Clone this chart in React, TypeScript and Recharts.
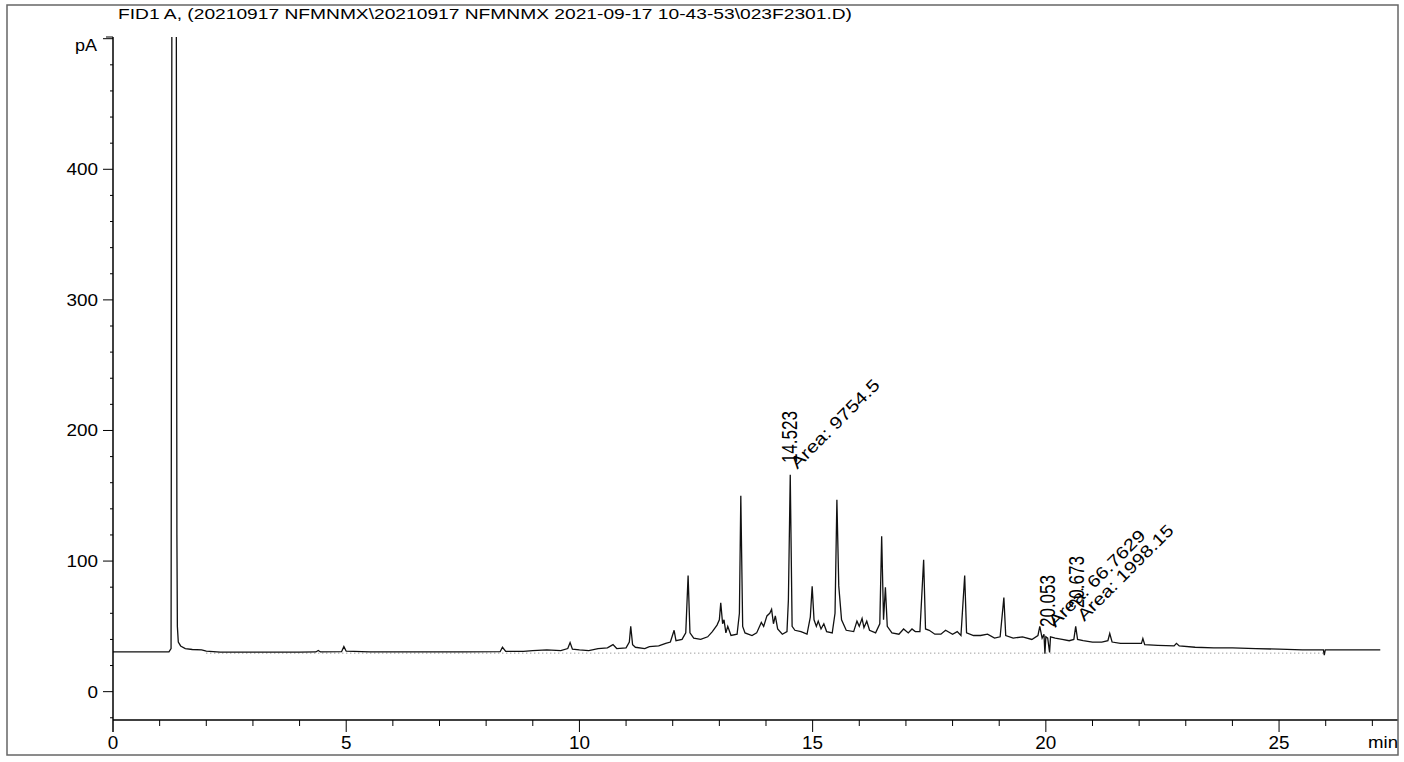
import React from "react";
import { LineChart, Line, XAxis, YAxis, ReferenceDot } from "recharts";

// FID1 A signal, time in min, response in pA
const times = [
  0, 1.2, 1.245, 1.265, 1.355, 1.37, 1.38, 1.4, 1.45, 1.55, 1.7, 1.9, 2.0, 2.3, 3.0, 3.5, 4.0, 4.35, 4.4, 4.45,
  4.9, 4.95, 5.0, 5.5, 6.5, 7.5, 8.3, 8.35, 8.42, 8.8, 9.0, 9.3, 9.6, 9.75, 9.8, 9.85, 10.0, 10.2, 10.4, 10.6,
  10.72, 10.8, 11.0, 11.07, 11.1, 11.14, 11.2, 11.4, 11.5, 11.7, 11.85, 11.95, 12.03, 12.07, 12.2, 12.28, 12.33, 12.37, 12.45, 12.6,
  12.75, 12.85, 12.95, 13.0, 13.03, 13.07, 13.1, 13.14, 13.18, 13.25, 13.38, 13.43, 13.46, 13.5, 13.55, 13.7, 13.8, 13.9, 13.95, 14.02,
  14.08, 14.12, 14.16, 14.2, 14.25, 14.35, 14.45, 14.48, 14.52, 14.56, 14.62, 14.75, 14.88, 14.95, 14.99, 15.03, 15.08, 15.12, 15.18, 15.24,
  15.3, 15.42, 15.48, 15.52, 15.56, 15.62, 15.72, 15.88, 15.95, 16.0, 16.06, 16.1, 16.16, 16.22, 16.35, 16.44, 16.48, 16.52, 16.56, 16.6,
  16.7, 16.85, 16.95, 17.05, 17.13, 17.2, 17.3, 17.38, 17.42, 17.5, 17.62, 17.75, 17.85, 18.0, 18.1, 18.18, 18.26, 18.3, 18.45, 18.6,
  18.75, 18.9, 19.02, 19.1, 19.14, 19.3, 19.5, 19.7, 19.83, 19.87, 19.92, 19.96, 19.98, 20.0, 20.04, 20.08, 20.1, 20.2, 20.35, 20.5,
  20.6, 20.64, 20.68, 20.8, 21.0, 21.2, 21.33, 21.37, 21.42, 21.6, 21.9, 22.05, 22.08, 22.12, 22.4, 22.75, 22.8, 22.86, 23.2, 23.6,
  24.0, 24.5, 25.0, 25.5, 25.95, 25.97, 25.99, 26.5, 27.17,
];
const signal = [
  30.5, 30.5, 33, 600, 600, 120, 50, 38, 35, 33, 32.3, 32, 31, 30.2, 30.3, 30.2, 30.3, 30.4, 31.5, 30.4,
  30.6, 34.5, 31, 30.5, 30.4, 30.5, 30.6, 34, 30.8, 30.8, 31.5, 32, 31.5, 33, 37.6, 32.5, 32, 31.5, 33, 33.5,
  36, 33, 33.5, 38, 50, 36, 34, 33, 34.5, 35, 37, 38, 47, 39, 40, 45, 89, 45, 41, 40,
  42, 46, 51, 55, 68, 52, 55, 45, 50, 43, 44, 60, 150, 50, 45, 43, 45, 53, 50, 58,
  60, 63, 52, 58, 48, 44, 46, 70, 166, 50, 47, 46, 44, 57, 80.6, 55, 50, 54, 48, 52,
  46, 45, 60, 147, 81, 55, 47, 46, 54, 50, 56, 49, 54, 47, 45, 52, 119, 55, 80, 50,
  45, 44, 48, 45, 48, 46, 46, 101, 48, 47, 44, 44, 47, 44, 46, 43, 89, 45, 43, 43,
  44, 41, 42, 72, 43, 41, 42, 40, 43, 50, 41, 44, 29, 42, 41, 30, 42, 41, 40, 39,
  40, 50, 40, 39, 38, 38, 39, 44.5, 38, 37, 37, 37, 40.7, 36, 35.5, 35, 37, 35, 34, 33.5,
  33.5, 33, 32.5, 32, 32, 28, 32, 32, 32,
];

// integration baseline
const baselineTimes = [2.0, 25.97];
const baselineLevel = 29.5;

// peak annotations
const labelTimes = [14.523, 20.053, 20.673];
const rtLabels = ["14.523", "20.053", "20.673"];
const rtLabelLevels = [175, 49.5, 64];
const areaLabels = ["Area: 9754.5", "Area: 66.7629", "Area: 1998.15"];
const areaLabelLevels = [170, 48.8, 53.4];
const areaLabelLengths = [118, 129, 128];

const xMajor = [0, 5, 10, 15, 20, 25];
const xTicks = Array.from({ length: 28 }, (_, i) => i);
const yMajor = [0, 100, 200, 300, 400];
const yTicks = Array.from({ length: 27 }, (_, i) => -20 + i * 20);

const title = "FID1 A,  (20210917 NFMNMX\\20210917 NFMNMX 2021-09-17 10-43-53\\023F2301.D)";

const chromData = times.map((t, i) => ({ t, pA: signal[i] }));
const baselineData = baselineTimes.map((t) => ({ t, base: baselineLevel }));

const FONT = "'Liberation Sans', Arial, sans-serif";

const YTick = (props: any) => {
  const { x, y, payload } = props;
  const v = payload.value;
  const major = v % 100 === 0;
  const label = yMajor.includes(v);
  const s = String(v);
  return (
    <g>
      <line x1={x - (major ? 10 : 3)} x2={x} y1={y} y2={y} stroke="#000" strokeWidth={1} />
      {label && (
        <text x={x - 15} y={y + 6} textAnchor="end" fontSize={17} fontFamily={FONT} fill="#000"
          textLength={s.length * 10.5} lengthAdjust="spacingAndGlyphs">
          {s}
        </text>
      )}
    </g>
  );
};

const XTick = (props: any) => {
  const { x, y, payload } = props;
  const v = payload.value;
  const major = xMajor.includes(v);
  const s = String(v);
  return (
    <g>
      <line x1={x} x2={x} y1={y} y2={y + (major ? 12 : 6)} stroke="#000" strokeWidth={1} />
      {major && (
        <text x={x} y={y + 29} textAnchor="middle" fontSize={18} fontFamily={FONT} fill="#000"
          textLength={s.length * 10.5} lengthAdjust="spacingAndGlyphs">
          {s}
        </text>
      )}
    </g>
  );
};

// retention time, read upward, glyphs a little wider as in the scan
const RtLabel = (text: string) => (props: any) => {
  const { cx, cy } = props;
  const x = cx + 7;
  return (
    <text x={0} y={0} transform={`translate(${x} ${cy}) scale(1.25 1) rotate(-90)`} fontSize={17} fontFamily={FONT} fill="#000">
      {text}
    </text>
  );
};

const AreaLabel = (text: string, len: number) => (props: any) => {
  const { cx, cy } = props;
  const x = cx + 7;
  return (
    <text x={x} y={cy} transform={`rotate(-45 ${x} ${cy})`} fontSize={17} fontFamily={FONT} fill="#000"
      textLength={len} lengthAdjust="spacingAndGlyphs">
      {text}
    </text>
  );
};

export default function App() {
  return (
    <div style={{ position: "absolute", left: 0, top: 0, width: 1404, height: 762, background: "#fff" }}>
      <LineChart width={1404} height={762} margin={{ top: 37, right: 6, bottom: 0, left: 0 }}>
        <XAxis
          type="number"
          dataKey="t"
          domain={[0, 27.55]}
          ticks={xTicks}
          interval={0}
          tickSize={0}
          tickMargin={0}
          tickLine={false}
          height={42}
          axisLine={{ stroke: "#000", strokeWidth: 1.5 }}
          tick={<XTick />}
          allowDataOverflow
        />
        <YAxis
          type="number"
          domain={[-21.7, 501.3]}
          ticks={yTicks}
          interval={0}
          tickSize={0}
          tickMargin={0}
          tickLine={false}
          width={113}
          axisLine={{ stroke: "#000", strokeWidth: 1.5 }}
          tick={<YTick />}
          allowDataOverflow
        />
        <Line
          data={baselineData}
          dataKey="base"
          type="linear"
          stroke="#777"
          strokeWidth={1}
          strokeDasharray="1 3"
          dot={false}
          isAnimationActive={false}
        />
        <Line
          data={chromData}
          dataKey="pA"
          type="linear"
          stroke="#111"
          strokeWidth={1.3}
          dot={false}
          isAnimationActive={false}
        />
        {labelTimes.map((t, i) => (
          <ReferenceDot key={`rt${i}`} x={t} y={rtLabelLevels[i]} r={0} shape={RtLabel(rtLabels[i])} />
        ))}
        {labelTimes.map((t, i) => (
          <ReferenceDot key={`ar${i}`} x={t} y={areaLabelLevels[i]} r={0}
            shape={AreaLabel(areaLabels[i], areaLabelLengths[i])} />
        ))}
      </LineChart>
      <svg width={1404} height={762} style={{ position: "absolute", left: 0, top: 0, pointerEvents: "none" }}>
        <rect x={7} y={5} width={1391} height={750} fill="none" stroke="#666" strokeWidth={1.5} />
        <text x={118} y={19} fontSize={15} fontFamily={FONT} fill="#000" textLength={734} lengthAdjust="spacingAndGlyphs">
          {title}
        </text>
        <text x={75} y={51} fontSize={17} fontFamily={FONT} fill="#000" textLength={22} lengthAdjust="spacingAndGlyphs">
          pA
        </text>
        <line x1={106} x2={113} y1={37} y2={37} stroke="#000" strokeWidth={1} />
        <line x1={113} x2={113} y1={720} y2={732} stroke="#000" strokeWidth={1} />
        <text x={1368} y={748} fontSize={17} fontFamily={FONT} fill="#000" textLength={30} lengthAdjust="spacingAndGlyphs">
          min
        </text>
      </svg>
    </div>
  );
}
